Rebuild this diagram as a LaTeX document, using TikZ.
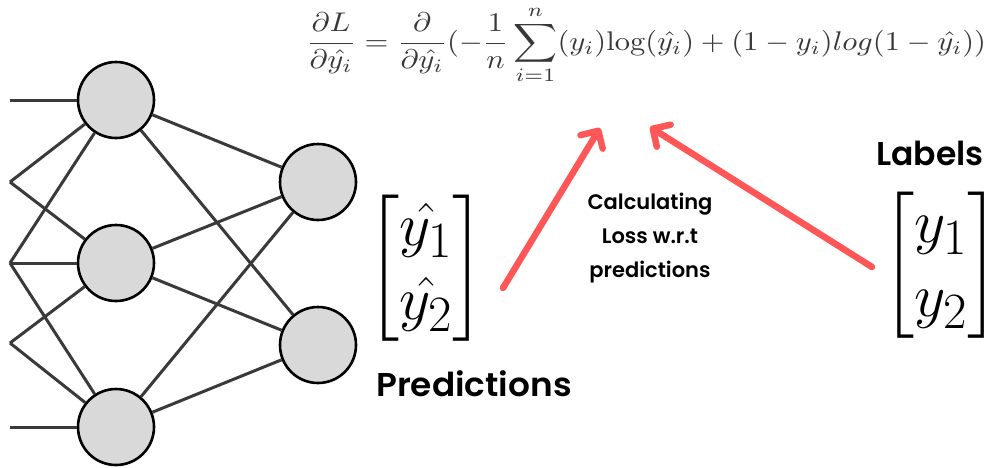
\documentclass[tikz,border=0pt]{standalone}
\usepackage{amsmath}
\usepackage{fontspec}
\setsansfont{Poppins}[BoldFont={Poppins SemiBold}]
\usetikzlibrary{arrows.meta}
\definecolor{nodegray}{HTML}{D9D9D9}
\definecolor{edgegray}{HTML}{3A3A3A}
\definecolor{arrowred}{HTML}{FF5757}
\definecolor{mathgray}{HTML}{383838}
\tikzset{
  neuron/.style={circle, draw=black, fill=nodegray, line width=2.6pt, minimum size=76pt, inner sep=0pt},
  edge/.style={draw=edgegray, line width=3pt},
  redarrow/.style={draw=arrowred, line width=6.5pt, line cap=round,
    -{Straight Barb[length=13pt,width=26pt,line cap=round,line join=round]}},
  lbl/.style={font=\sffamily\bfseries\fontsize{33}{38}\selectfont, inner sep=0pt},
  smalllbl/.style={font=\sffamily\bfseries\fontsize{21}{34}\selectfont, align=center, inner sep=0pt},
}
\begin{document}
\begin{tikzpicture}[x=1pt,y=-1pt]
\useasboundingbox[fill=white] (0,0) rectangle (993,467);
% neurons
\node[neuron] (h1) at (116,100) {};
\node[neuron] (h2) at (116,263) {};
\node[neuron] (h3) at (116,427) {};
\node[neuron] (o1) at (318,182) {};
\node[neuron] (o2) at (318,345) {};
% inputs
\coordinate (i1) at (10,100);
\coordinate (i2) at (10,182);
\coordinate (i3) at (10,263);
\coordinate (i4) at (10,343);
\coordinate (i5) at (10,427);
\path[edge] (i1) -- (h1);
\path[edge] (i2) -- (h1);
\path[edge] (i2) -- (h2);
\path[edge] (i3) -- (h1);
\path[edge] (i3) -- (h2);
\path[edge] (i3) -- (h3);
\path[edge] (i4) -- (h2);
\path[edge] (i4) -- (h3);
\path[edge] (i5) -- (h3);
\foreach \h in {h1,h2,h3}{\foreach \o in {o1,o2}{\path[edge] (\h) -- (\o);}}
% formula
\node[text=mathgray, xscale=3.05, yscale=2.7, inner sep=0pt] (formula) at (646,45)
  {$\displaystyle \frac{\partial L}{\partial \hat{y_i}} = \frac{\partial}{\partial \hat{y_i}}(-\frac{1}{n}\sum_{i=1}^{n}(y_i)\mathrm{log}(\hat{y_i}) + (1-y_i)log(1-\hat{y_i}))$};
% matrices
\node[scale=2.45, inner sep=0pt] (pm) at (426,268) {\Huge$\begin{bmatrix}\hat{y_1}\\ \hat{y_2}\end{bmatrix}$};
\node[scale=2.45, inner sep=0pt] (lm) at (941,265) {\Huge$\begin{bmatrix}y_1\\ y_2\end{bmatrix}$};
% labels
\node[lbl, xscale=1.04] (pred) at (474,384) {Predictions};
\node[lbl] (lab) at (930,153) {Labels};
\node[smalllbl] (calc) at (650,238) {Calculating\\Loss w.r.t\\predictions};
% arrows
\coordinate (a1s) at (503,288);
\coordinate (a1e) at (600,128);
\coordinate (a2s) at (872,267);
\coordinate (a2e) at (650,127);
\draw[redarrow] (a1s) -- (a1e);
\draw[redarrow] (a2s) -- (a2e);
\end{tikzpicture}
\end{document}
